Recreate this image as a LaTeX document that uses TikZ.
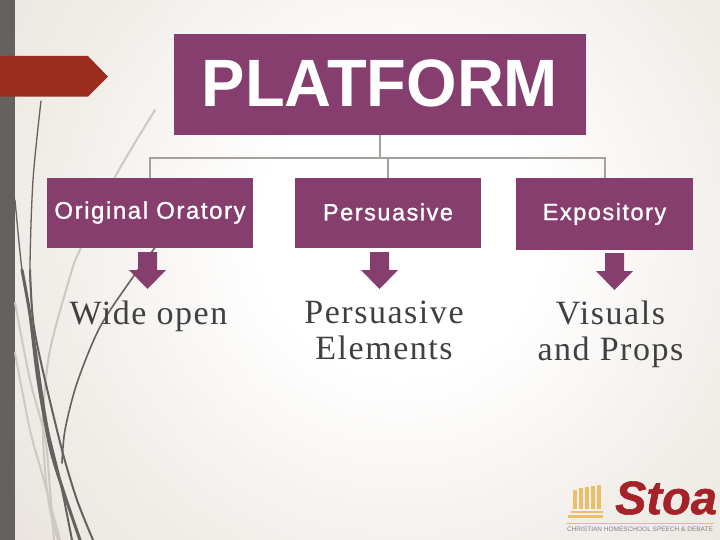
\documentclass[tikz,border=0pt]{standalone}
\usepackage{fontspec}
\setmainfont{Liberation Sans}
\newfontfamily\spaced[LetterSpace=4.5]{Liberation Serif}
\newfontfamily\semibold[FakeBold=1.2,LetterSpace=6.5]{Liberation Sans}
\newfontfamily\stoafont[BoldItalicFeatures={FakeBold=1.2}]{Liberation Sans}
\usetikzlibrary{calc}
\definecolor{plum}{RGB}{134,62,110}
\definecolor{brick}{RGB}{155,45,30}
\definecolor{barGrey}{RGB}{101,97,94}
\definecolor{wispLight}{RGB}{205,200,194}
\definecolor{linkGrey}{RGB}{165,161,157}
\definecolor{bodyText}{RGB}{64,64,64}
\definecolor{beige}{RGB}{229,223,215}
\definecolor{logoGold}{RGB}{236,190,105}
\definecolor{logoRed}{RGB}{165,35,40}
\pgfdeclareradialshading{paper}{\pgfpoint{0bp}{0bp}}{
  color(0bp)=(white); color(5bp)=(white); color(12bp)=(beige!50!white);
  color(18bp)=(beige!85!white); color(26bp)=(beige); color(50bp)=(beige)}
\tikzset{
  x=1pt,y=-1pt,
  box/.style={fill=plum,text=white,inner sep=0pt,anchor=north west},
  link/.style={draw=linkGrey,line width=2pt},
  wispDark/.style={draw=barGrey,line cap=round},
  wispPale/.style={draw=wispLight,line cap=round},
  body/.style={text=bodyText,align=center,font=\spaced\fontsize{34}{36}\selectfont},
  labelbig/.style={text=white,font=\semibold\fontsize{24}{28}\selectfont},
  labelsmall/.style={text=white,font=\semibold\fontsize{23.5}{26}\selectfont},
  darr/.pic={\fill[plum] (-9.5,0)--(9.5,0)--(9.5,18)--(18.5,18)--(0,37)--(-18.5,18)--(-9.5,18)--cycle;}
}
\begin{document}
\begin{tikzpicture}
\useasboundingbox (0,0) rectangle (720,540);
\begin{scope}
\clip (0,0) rectangle (720,540);
\shade[shading=paper] (400,235) circle[radius=700pt];
\fill[barGrey] (0,0) rectangle (15,540);
% wisps
\draw[wispPale,line width=2pt] plot[smooth] coordinates {(155,110) (115,177) (80,250) (72,270) (50,350) (43,417) (45,470) (50,510) (58,540)};
\draw[wispPale,line width=2pt] plot[smooth] coordinates {(15,303) (30,380) (45,437) (50,490) (54,540)};
\draw[wispPale,line width=2pt] plot[smooth] coordinates {(15,353) (30,430) (43,477) (60,540)};
\draw[wispDark,line width=1.3pt] plot[smooth] coordinates {(41,101) (33,180) (30,270) (33,320)};
\draw[wispDark,line width=2pt] plot[smooth] coordinates {(30,270) (33,320) (42,367) (62,450) (77,500) (93,540)};
\draw[wispDark,line width=1.3pt] plot[smooth] coordinates {(15,200) (22,270) (30,315)};
\draw[wispDark,line width=3pt] plot[smooth] coordinates {(22,270) (30,315) (38,380) (50,447) (63,490) (80,540)};
\draw[wispDark,line width=2pt] plot[smooth] coordinates {(33,330) (40,380) (48,430) (60,480) (72,540)};
\draw[wispDark,line width=1.6pt] plot[smooth] coordinates {(157,245) (133,277) (100,327) (77,383) (65,430) (62,463)};
\end{scope}
% banner
\fill[brick] (0,56) -- (88,56) -- (108,76.7) -- (88,96.7) -- (0,96.7) -- cycle;
% boxes
\node[box,minimum width=412pt,minimum height=101pt] (plat) at (174,34) {};
\node[text=white,xscale=.97,font=\bfseries\fontsize{67}{67}\selectfont] at (380,83) {PLATFORM};
\node[box,minimum width=206pt,minimum height=70pt] (orig) at (47,178) {};
\node[box,minimum width=186pt,minimum height=70pt] (pers) at (295,178) {};
\node[box,minimum width=177pt,minimum height=72pt] (expo) at (516,178) {};
\node[labelbig] at (150,212.5) {Original Oratory};
\node[labelsmall] at (388,212) {Persuasive};
\node[labelsmall] at (604.5,214) {Expository};
% connectors
\coordinate (bus) at ($(plat.south)+(0,23)$);
\draw[link] (plat.south) -- (bus);
\draw[link] (bus) -| (orig.north);
\draw[link] (bus) -| (expo.north);
\draw[link] (pers.north |- bus) -- (pers.north);
% arrows
\pic at (147.5,252) {darr};
\pic at (379.5,252) {darr};
\pic at (614.5,253) {darr};
% body text
\node[body] at (148.5,316) {Wide open};
\node[body,anchor=north] at (384,297.5) {Persuasive\\Elements};
\node[body,anchor=north] at (610.5,297.5) {Visuals\\and Props};
% logo
\foreach \c/\t in {573/490,579/488,585/487,591/486,597/485}{\fill[logoGold] (\c,\t) rectangle (\c+4,509);}
\fill[logoGold] (571,510.5) rectangle (603,513);
\fill[logoGold] (568,514.5) rectangle (603,518);
\node[text=logoRed,inner sep=0pt,font=\stoafont\bfseries\itshape\fontsize{47}{47}\selectfont] at (666,498) {Stoa};
\draw[logoGold,line width=.8pt] (566,523) -- (714,523);
\node[text=gray,inner sep=0pt,font=\fontsize{6.5}{7}\selectfont] at (640,529) {CHRISTIAN HOMESCHOOL SPEECH \& DEBATE};
\end{tikzpicture}
\end{document}
